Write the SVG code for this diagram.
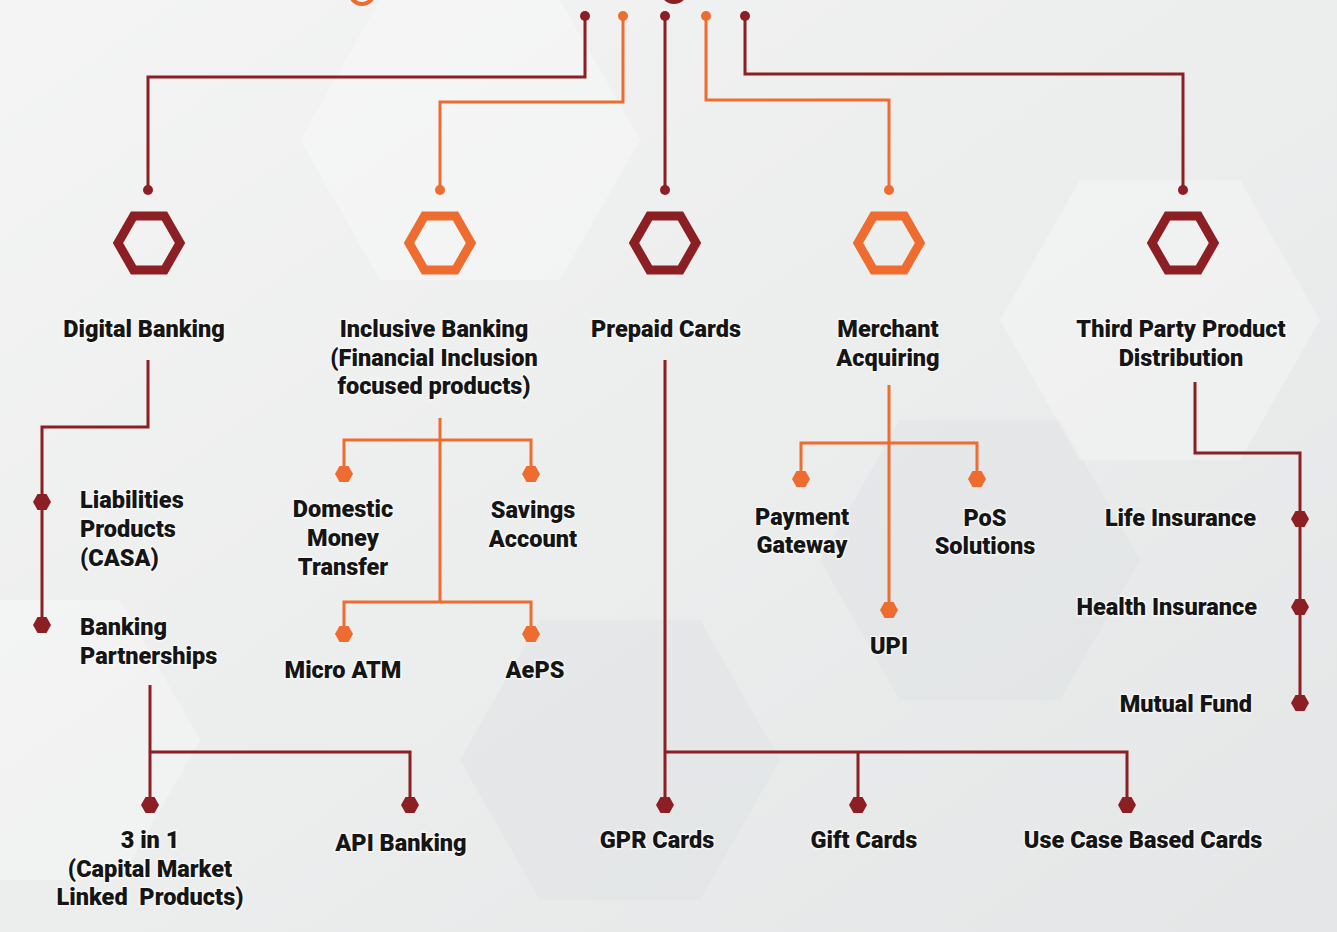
<svg xmlns="http://www.w3.org/2000/svg" width="1337" height="932" viewBox="0 0 1337 932">
<defs>
<linearGradient id="bg" x1="0" y1="0" x2="1" y2="1">
<stop offset="0" stop-color="#f4f4f4"/>
<stop offset="0.5" stop-color="#eceded"/>
<stop offset="1" stop-color="#e4e6e7"/>
</linearGradient>
<polygon id="hx" points="-9,0 -4.5,-8 4.5,-8 9,0 4.5,8 -4.5,8"/>
<polygon id="bighex" points="-31,0 -15.5,-27 15.5,-27 31,0 15.5,27 -15.5,27"/>
</defs>
<style>
.r{stroke:#8c1f24}
.o{stroke:#ee6c2f}
.rf{fill:#8c1f24}
.of{fill:#ee6c2f}
.ln{fill:none;stroke-width:3}
.hex{fill:none;stroke-width:9}
.t{font-family:Roboto,"Liberation Sans",sans-serif;font-weight:900;font-size:23.5px;fill:#151515;stroke:#ffffff;stroke-width:3;stroke-opacity:0.55;paint-order:stroke}
.m{text-anchor:middle}
.e{text-anchor:end}
.bgs{fill:#ffffff;opacity:0.28}
.bgd{fill:#d9dcdd;opacity:0.28}
</style>

<rect width="1337" height="932" fill="url(#bg)"/>
<g id="background">
<polygon class="bgs" points="380,0 560,0 640,140 560,280 380,280 300,140"/>
<polygon class="bgd" points="900,420 1060,420 1140,560 1060,700 900,700 820,560"/>
<polygon class="bgs" points="1080,180 1240,180 1320,320 1240,460 1080,460 1000,320"/>
<polygon class="bgd" points="540,620 700,620 780,760 700,900 540,900 460,760"/>
<polygon class="bgs" points="0,600 120,600 200,740 120,880 0,880"/>
</g>

<g id="top-remnants" fill="none" stroke-width="4">
<circle cx="362" cy="-8" r="12" class="o"/>
<circle cx="674" cy="-10" r="12" class="r"/>
</g>

<g id="connectors">
<path class="ln r" d="M585,16 V77 H148 V190"/>
<path class="ln o" d="M623,16 V102 H440 V190"/>
<path class="ln r" d="M665,16 V190"/>
<path class="ln o" d="M706,16 V100 H889 V190"/>
<path class="ln r" d="M745,16 V74 H1183 V190"/>
<path class="ln r" d="M148,360 V427 H42 V625"/>
<path class="ln r" d="M150,685 V805 M150,752 H410 V805"/>
<path class="ln o" d="M440,418 V602 M344,474 V440 H531 V474 M344,634 V602 H531 V634"/>
<path class="ln o" d="M889,385 V610 M801,479 V443 H977 V479"/>
<path class="ln r" d="M665,360 V805 M665,752 H1127 V805 M858,752 V805"/>
<path class="ln r" d="M1195,382 V453 H1300 V703"/>
<circle cx="585" cy="16" r="5" class="rf"/>
<circle cx="623" cy="16" r="5" class="of"/>
<circle cx="665" cy="16" r="5" class="rf"/>
<circle cx="706" cy="16" r="5" class="of"/>
<circle cx="745" cy="16" r="5" class="rf"/>
<circle cx="148" cy="190" r="5" class="rf"/>
<circle cx="440" cy="190" r="5" class="of"/>
<circle cx="665" cy="190" r="5" class="rf"/>
<circle cx="889" cy="190" r="5" class="of"/>
<circle cx="1183" cy="190" r="5" class="rf"/>
</g>

<g id="digital-banking">
<use href="#bighex" x="149" y="243" class="hex r"/>
<text class="t m" x="144" y="337">Digital Banking</text>
</g>
<g id="inclusive-banking">
<use href="#bighex" x="440" y="243" class="hex o"/>
<text class="t m" x="434" y="337">Inclusive Banking</text>
<text class="t m" x="434" y="366">(Financial Inclusion</text>
<text class="t m" x="434" y="394">focused products)</text>
</g>
<g id="prepaid-cards">
<use href="#bighex" x="665" y="243" class="hex r"/>
<text class="t m" x="666" y="337">Prepaid Cards</text>
</g>
<g id="merchant-acquiring">
<use href="#bighex" x="889" y="243" class="hex o"/>
<text class="t m" x="888" y="337">Merchant</text>
<text class="t m" x="888" y="366">Acquiring</text>
</g>
<g id="third-party">
<use href="#bighex" x="1183" y="243" class="hex r"/>
<text class="t m" x="1181" y="337">Third Party Product</text>
<text class="t m" x="1181" y="366">Distribution</text>
</g>

<g id="liabilities">
<use href="#hx" x="42" y="502" class="rf"/>
<text class="t" x="80" y="508">Liabilities</text>
<text class="t" x="80" y="537">Products</text>
<text class="t" x="80" y="566">(CASA)</text>
</g>
<g id="banking-partnerships">
<use href="#hx" x="42" y="625" class="rf"/>
<text class="t" x="80" y="635">Banking</text>
<text class="t" x="80" y="664">Partnerships</text>
</g>
<g id="three-in-one">
<use href="#hx" x="150" y="805" class="rf"/>
<text class="t m" x="150" y="848">3 in 1</text>
<text class="t m" x="150" y="877">(Capital Market</text>
<text class="t m" x="150" y="905" xml:space="preserve">Linked  Products)</text>
</g>
<g id="api-banking">
<use href="#hx" x="410" y="805" class="rf"/>
<text class="t m" x="401" y="851">API Banking</text>
</g>

<g id="domestic-money-transfer">
<use href="#hx" x="344" y="474" class="of"/>
<text class="t m" x="343" y="517">Domestic</text>
<text class="t m" x="343" y="546">Money</text>
<text class="t m" x="343" y="575">Transfer</text>
</g>
<g id="savings-account">
<use href="#hx" x="531" y="474" class="of"/>
<text class="t m" x="533" y="518">Savings</text>
<text class="t m" x="533" y="547">Account</text>
</g>
<g id="micro-atm">
<use href="#hx" x="344" y="634" class="of"/>
<text class="t m" x="343" y="678">Micro ATM</text>
</g>
<g id="aeps">
<use href="#hx" x="531" y="634" class="of"/>
<text class="t m" x="535" y="678">AePS</text>
</g>

<g id="payment-gateway">
<use href="#hx" x="801" y="479" class="of"/>
<text class="t m" x="802" y="525">Payment</text>
<text class="t m" x="802" y="553">Gateway</text>
</g>
<g id="pos-solutions">
<use href="#hx" x="977" y="479" class="of"/>
<text class="t m" x="985" y="526">PoS</text>
<text class="t m" x="985" y="554">Solutions</text>
</g>
<g id="upi">
<use href="#hx" x="889" y="610" class="of"/>
<text class="t m" x="889" y="654">UPI</text>
</g>

<g id="gpr-cards">
<use href="#hx" x="665" y="805" class="rf"/>
<text class="t m" x="657" y="848">GPR Cards</text>
</g>
<g id="gift-cards">
<use href="#hx" x="858" y="805" class="rf"/>
<text class="t m" x="864" y="848">Gift Cards</text>
</g>
<g id="use-case-cards">
<use href="#hx" x="1127" y="805" class="rf"/>
<text class="t m" x="1143" y="848">Use Case Based Cards</text>
</g>

<g id="life-insurance">
<use href="#hx" x="1300" y="519" class="rf"/>
<text class="t e" x="1256" y="526">Life Insurance</text>
</g>
<g id="health-insurance">
<use href="#hx" x="1300" y="607" class="rf"/>
<text class="t e" x="1257" y="615">Health Insurance</text>
</g>
<g id="mutual-fund">
<use href="#hx" x="1300" y="703" class="rf"/>
<text class="t e" x="1252" y="712">Mutual Fund</text>
</g>
</svg>
